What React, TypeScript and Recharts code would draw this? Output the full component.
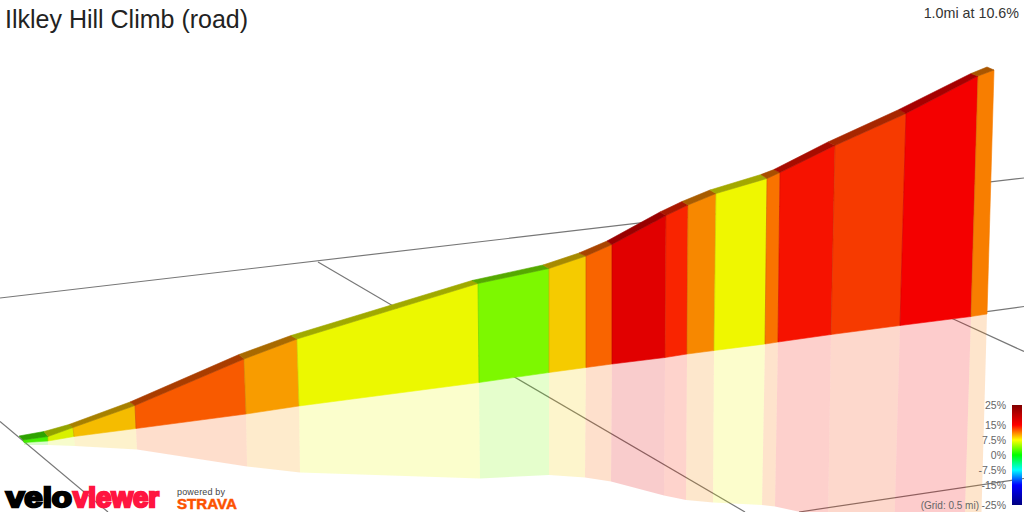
import { Scatter, ScatterChart, XAxis, YAxis } from "recharts";

const title = "Ilkley Hill Climb (road)";
const summary = "1.0mi at 10.6%";
const gridNote = "(Grid: 0.5 mi)";

// one colour per climb section
const sectionColors = [
  "#44ee00", "#d8f000", "#f5bc00", "#f85a00", "#f89c00", "#ecf800",
  "#7df800", "#f5cb00", "#f96400", "#e10000", "#f92400", "#f78800",
  "#eff700", "#f97300", "#f61200", "#f63a00", "#f40000", "#f87e00",
];

// wall breakpoints, screen-projected
const topX = [23, 48, 73, 135, 244, 297, 478, 549, 586, 612, 666, 688, 716, 767, 780, 835, 906, 978, 994];
const topY = [440, 436.5, 427.5, 405.5, 359, 339, 283.5, 268.5, 256, 244.5, 215.5, 205, 193.5, 178.5, 172.5, 145.5, 113.5, 76, 70];
const baseX = [24, 48, 74, 136, 246, 299, 479, 549, 586, 612, 665, 687, 714, 765, 778, 831, 900, 971, 987];
const baseY = [442.5, 441, 436.5, 428.5, 414, 406, 382.5, 372.5, 367.5, 364, 357.5, 354, 350.5, 344, 342, 334.5, 325.5, 316.5, 314];

// back edge of the road ribbon
const backX = [19, 44, 69, 130, 239, 291, 472, 543, 579, 607, 660, 682, 710, 761, 774, 828, 899, 971, 987];
const backY = [436, 431.5, 424.5, 402, 354.5, 335.5, 280.5, 265, 253, 241, 212, 201.5, 190, 174.5, 169.5, 142, 109.5, 73.5, 67];

// lower edge of the reflection
const mirrorX = [24, 48, 75, 137, 247, 300, 480, 549, 585, 611, 664, 686, 713, 762, 775, 828, 894, 963.5, 980];
const mirrorY = [445, 445, 446, 449.5, 466.5, 472.5, 478.5, 475, 477.5, 481.5, 495.5, 500, 502.5, 505, 506.5, 518, 540, 560, 565];

// grid lines as [x0, y0, x1, y1]
const gridLines = [
  [0, 298, 1024, 178],
  [0, 421.5, 108, 512],
  [318, 262, 745, 512],
  [950, 317.5, 1024, 351.5],
  [799, 512, 1024, 478.5],
  [25, 442, 1024, 306.5],
];

const legendTicks = [25, 15, 7.5, 0, -7.5, -15, -25];
const legendColors = ["#800000", "#ff0000", "#ffff00", "#00ff00", "#00ffff", "#0000ff", "#000080"];

const pt = (x: number, y: number) => ({ x, y });

const darken = (hex: string, k: number) => {
  const n = parseInt(hex.slice(1), 16);
  const c = [(n >> 16) & 255, (n >> 8) & 255, n & 255].map((v) => Math.round(v * k));
  return `rgb(${c[0]},${c[1]},${c[2]})`;
};

const polygon =
  (fill: string, fillOpacity = 1, stroke = "none") =>
  (props: any) => (
    <polygon
      points={props.points.map((p: any) => `${p.x},${p.y}`).join(" ")}
      fill={fill}
      fillOpacity={fillOpacity}
      stroke={stroke}
      strokeWidth={0.6}
    />
  );

const noDot = () => <g />;

const legendTick = (props: any) => (
  <text x={1006} y={props.y + 3.5} textAnchor="end" fontSize={10.5} fill="#666">
    {`${props.payload.value}%`}
  </text>
);

export default function App() {
  return (
    <div style={{ position: "fixed", left: 0, top: 0, width: 1024, height: 512, background: "#fff", overflow: "hidden", fontFamily: "'Liberation Sans', Arial, sans-serif" }}>
      <ScatterChart width={1024} height={512} margin={{ top: 0, right: -1, bottom: 0, left: 0 }}>
        <defs>
          <linearGradient id="gradeScale" x1="0" y1="0" x2="0" y2="1">
            {legendTicks.map((t, i) => (
              <stop key={t} offset={`${((25 - t) / 50) * 100}%`} stopColor={legendColors[i]} />
            ))}
          </linearGradient>
        </defs>
        <XAxis type="number" dataKey="x" domain={[0, 1024]} hide allowDataOverflow />
        <YAxis yAxisId="px" type="number" dataKey="y" domain={[0, 512]} reversed hide allowDataOverflow />
        <YAxis
          yAxisId="grade"
          type="number"
          dataKey="y"
          orientation="right"
          width={1}
          domain={[-28.5, 227.5]}
          ticks={legendTicks}
          interval={0}
          axisLine={false}
          tickLine={false}
          tick={legendTick}
          allowDataOverflow
        />

        {gridLines.map((g, i) => (
          <Scatter
            key={`grid${i}`}
            yAxisId="px"
            data={[pt(g[0], g[1]), pt(g[2], g[3])]}
            shape={noDot}
            line={{ stroke: "#777", strokeWidth: 1.2 }}
            isAnimationActive={false}
          />
        ))}

        {sectionColors.map((c, i) => (
          <Scatter
            key={`mirror${i}`}
            yAxisId="px"
            data={[pt(baseX[i], baseY[i]), pt(baseX[i + 1], baseY[i + 1]), pt(mirrorX[i + 1], mirrorY[i + 1]), pt(mirrorX[i], mirrorY[i])]}
            shape={noDot}
            line={polygon(c, 0.2)}
            isAnimationActive={false}
          />
        ))}

        {sectionColors.map((c, i) => (
          <Scatter
            key={`wall${i}`}
            yAxisId="px"
            data={[pt(topX[i], topY[i]), pt(topX[i + 1], topY[i + 1]), pt(baseX[i + 1], baseY[i + 1]), pt(baseX[i], baseY[i])]}
            shape={noDot}
            line={polygon(c, 1, c)}
            isAnimationActive={false}
          />
        ))}

        {topX.slice(1, -1).map((x, i) => (
          <Scatter
            key={`seam${i}`}
            yAxisId="px"
            data={[pt(x, topY[i + 1]), pt(baseX[i + 1], baseY[i + 1])]}
            shape={noDot}
            line={{ stroke: "#000", strokeOpacity: 0.1, strokeWidth: 1 }}
            isAnimationActive={false}
          />
        ))}

        {sectionColors.map((c, i) => (
          <Scatter
            key={`road${i}`}
            yAxisId="px"
            data={[pt(backX[i], backY[i]), pt(backX[i + 1], backY[i + 1]), pt(topX[i + 1], topY[i + 1]), pt(topX[i], topY[i])]}
            shape={noDot}
            line={polygon(darken(c, 0.68), 1, darken(c, 0.68))}
            isAnimationActive={false}
          />
        ))}

        <Scatter
          yAxisId="grade"
          data={[pt(1012, 25), pt(1022, 25), pt(1022, -25), pt(1012, -25)]}
          shape={noDot}
          line={polygon("url(#gradeScale)")}
          isAnimationActive={false}
        />
      </ScatterChart>

      <svg width={1024} height={512} style={{ position: "absolute", left: 0, top: 0 }}>
        <text x={5} y={28} fontSize={25} fill="#222">{title}</text>
        <text x={1019} y={18} fontSize={14.3} fill="#333" textAnchor="end">{summary}</text>
        <text x={979} y={509} fontSize={10} fill="#666" textAnchor="end">{gridNote}</text>
        <text x={6} y={507} fontSize={28} fontWeight={700} stroke="#000" strokeWidth={2.4} textLength={66} lengthAdjust="spacingAndGlyphs">velo</text>
        <text x={73} y={507} fontSize={28} fontWeight={700} fill="#ff1540" stroke="#ff1540" strokeWidth={2.4} textLength={86} lengthAdjust="spacingAndGlyphs">viewer</text>
        <text x={177} y={495} fontSize={9} fill="#444" textLength={48}>powered by</text>
        <text x={177} y={509} fontSize={14} fontWeight={700} fill="#fc5200" stroke="#fc5200" strokeWidth={0.5} textLength={60} lengthAdjust="spacingAndGlyphs">STRAVA</text>
      </svg>
    </div>
  );
}
